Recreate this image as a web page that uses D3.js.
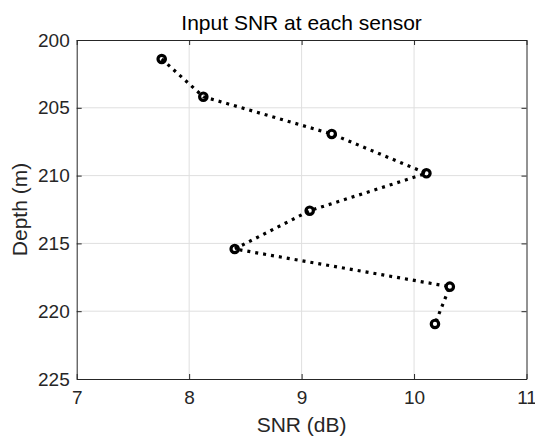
<!DOCTYPE html>
<html>
<head>
<meta charset="utf-8">
<script src="https://cdn.jsdelivr.net/npm/d3@7"></script>
<style>
  body { margin: 0; background: #fff; }
  svg { display: block; font-family: "Liberation Sans", Arial, sans-serif; }
</style>
</head>
<body>
<div class="container"></div>
<script>
// Data
const snr = [7.756, 8.126, 9.268, 10.11, 9.072, 8.405, 10.318, 10.186];
const depth = [201.4, 204.18, 206.93, 209.83, 212.59, 215.41, 218.19, 220.94];
const xTicks = [7, 8, 9, 10, 11];
const yTicks = [200, 205, 210, 215, 220, 225];

const width = 535;
const height = 439;
const margin = { top: 40, right: 8.5, bottom: 60, left: 76.7 };
const axisColor = '#262626';

const svg = d3
  .select('.container')
  .append('svg')
  .attr('width', width)
  .attr('height', height);

const x = d3.scaleLinear().domain([7, 11]).range([margin.left, width - margin.right]);
const y = d3.scaleLinear().domain([200, 225]).range([margin.top, height - margin.bottom]);

// Grid
svg
  .append('g')
  .selectAll('line')
  .data(xTicks.slice(1, -1))
  .enter()
  .append('line')
  .attr('x1', (d) => x(d))
  .attr('x2', (d) => x(d))
  .attr('y1', y(200))
  .attr('y2', y(225))
  .attr('stroke', '#dfdfdf');

svg
  .append('g')
  .selectAll('line')
  .data(yTicks.slice(1, -1))
  .enter()
  .append('line')
  .attr('x1', x(7))
  .attr('x2', x(11))
  .attr('y1', (d) => y(d))
  .attr('y2', (d) => y(d))
  .attr('stroke', '#dfdfdf');

// Axes (ticks point inward, MATLAB style)
const styleAxis = (g) => {
  g.select('.domain').attr('stroke', axisColor);
  g.selectAll('.tick line').attr('stroke', axisColor);
  g.selectAll('.tick text')
    .attr('fill', axisColor)
    .style('font-size', '19px');
};

svg
  .append('g')
  .attr('transform', `translate(0, ${y(225)})`)
  .call(d3.axisBottom(x).tickValues(xTicks).tickFormat(d3.format('d')).tickSizeInner(-5).tickSizeOuter(0).tickPadding(12))
  .call(styleAxis);

svg
  .append('g')
  .attr('transform', `translate(0, ${y(200)})`)
  .call(d3.axisTop(x).tickValues(xTicks).tickFormat('').tickSizeInner(-5).tickSizeOuter(0))
  .call(styleAxis);

svg
  .append('g')
  .attr('transform', `translate(${x(7)}, 0)`)
  .call(d3.axisLeft(y).tickValues(yTicks).tickFormat(d3.format('d')).tickSizeInner(-5).tickSizeOuter(0).tickPadding(7))
  .call(styleAxis);

svg
  .append('g')
  .attr('transform', `translate(${x(11)}, 0)`)
  .call(d3.axisRight(y).tickValues(yTicks).tickFormat('').tickSizeInner(-5).tickSizeOuter(0))
  .call(styleAxis);

// Line + markers
const line = d3
  .line()
  .x((d, i) => x(snr[i]))
  .y((d) => y(d));

svg
  .append('path')
  .datum(depth)
  .attr('d', line)
  .attr('fill', 'none')
  .attr('stroke', '#000')
  .attr('stroke-width', 3.2)
  .attr('stroke-dasharray', '3,5');

svg
  .append('g')
  .selectAll('circle')
  .data(depth)
  .enter()
  .append('circle')
  .attr('cx', (d, i) => x(snr[i]))
  .attr('cy', (d) => y(d))
  .attr('r', 3.7)
  .attr('fill', 'none')
  .attr('stroke', '#000')
  .attr('stroke-width', 3.2);

// Title and labels
svg
  .append('text')
  .attr('x', (x(7) + x(11)) / 2)
  .attr('y', 30)
  .attr('text-anchor', 'middle')
  .attr('fill', '#000')
  .style('font-size', '21px')
  .text('Input SNR at each sensor');

svg
  .append('text')
  .attr('x', (x(7) + x(11)) / 2)
  .attr('y', 432)
  .attr('text-anchor', 'middle')
  .attr('fill', axisColor)
  .style('font-size', '21px')
  .text('SNR (dB)');

svg
  .append('text')
  .attr('transform', `translate(27, ${(y(200) + y(225)) / 2}) rotate(-90)`)
  .attr('text-anchor', 'middle')
  .attr('fill', axisColor)
  .style('font-size', '21px')
  .text('Depth (m)');
</script>
</body>
</html>
